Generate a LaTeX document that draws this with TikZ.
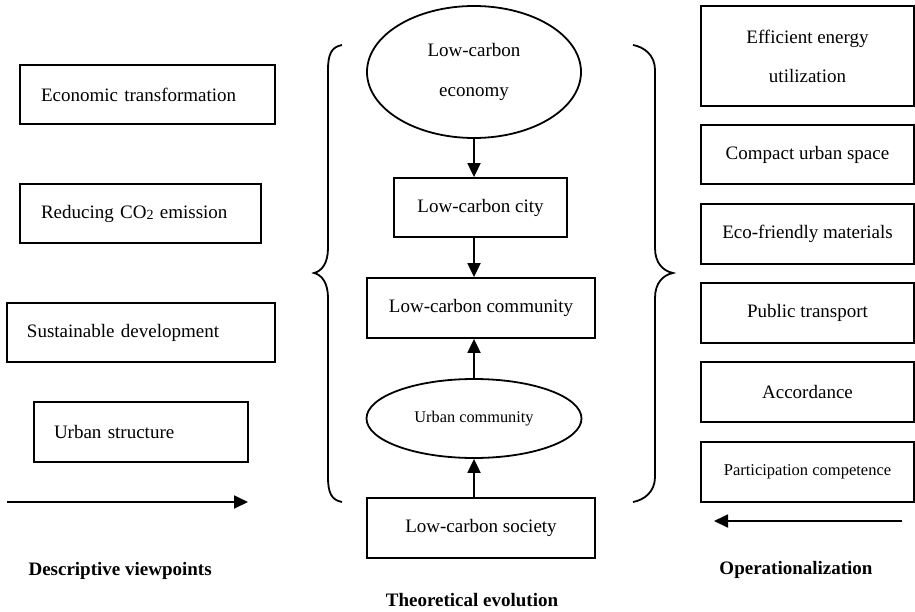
\documentclass[tikz,border=0pt]{standalone}
\usepackage{fontspec}
\setmainfont{Liberation Serif}
\usetikzlibrary{shapes.geometric,arrows.meta}
\begin{document}
\begin{tikzpicture}[x=1pt,y=-1pt,
  every node/.style={font=\fontsize{19}{23}\selectfont},
  box/.style={draw,line width=1.8pt,rectangle,inner sep=0pt,align=center},
  lbox/.style={draw,line width=1.8pt,rectangle,inner ysep=0pt,align=left},
  ell/.style={draw,line width=1.8pt,ellipse,inner sep=0pt,align=center},
  arr/.style={line width=1.8pt,-{Triangle[length=14pt,width=13pt]}},
  brace/.style={line width=1.8pt},
  lbl/.style={font=\fontsize{19}{23}\selectfont\bfseries}]
\useasboundingbox (0,0) rectangle (915,612);
% left column
\node[lbox,minimum height=59pt,text width=213pt,inner xsep=21pt] (econ) at (147.5,94.5) {Economic transformation};
\node[lbox,minimum height=59pt,text width=199pt,inner xsep=21pt] (co2) at (140.5,213.5) {Reducing CO\raisebox{-1pt}{\fontsize{14}{14}\selectfont 2} emission};
\node[lbox,minimum height=59pt,text width=228pt,inner xsep=20pt] (sust) at (141,332.5) {Sustainable development};
\node[lbox,minimum height=60pt,text width=174pt,inner xsep=20pt] (urbs) at (141,432) {Urban structure};
\coordinate (la) at (7,502);
\coordinate (lb) at (248,502);
\draw[arr] (la) -- (lb);
\node[lbl,anchor=west] (desc) at (25,571) {Descriptive viewpoints};
% centre column
\node[ell,minimum width=214pt,minimum height=132pt,font=\fontsize{19}{40}\selectfont] (ell1) at (474,72) {Low-carbon\\economy};
\node[box,minimum width=173pt,minimum height=59pt] (city) at (480.5,207.5) {Low-carbon city};
\node[box,minimum width=228pt,minimum height=60pt] (comm) at (481,308) {Low-carbon community};
\node[ell,minimum width=215pt,minimum height=79pt,font=\fontsize{16.3}{20}\selectfont] (ell2) at (474,418.5) {Urban community};
\node[box,minimum width=228pt,minimum height=60pt] (soc) at (481,528) {Low-carbon society};
\node[lbl] (theo) at (472,600) {Theoretical evolution};
\draw[arr] (ell1.south) -- (ell1.south |- city.north);
\draw[arr] (ell1.south |- city.south) -- (ell1.south |- comm.north);
\draw[arr] (ell2.north) -- (ell2.north |- comm.south);
\draw[arr] (ell2.south |- soc.north) -- (ell2.south);
% braces
\draw[brace] (342,45) .. controls (331,47) and (328,55) .. (328,70)
  -- (328,248) .. controls (328,263) and (322,271) .. (314,273)
  .. controls (322,275) and (328,283) .. (328,298)
  -- (328,477) .. controls (328,492) and (331,500) .. (342,502);
\draw[brace] (633,45) .. controls (644,47) and (655,55) .. (655,70)
  -- (655,248) .. controls (655,263) and (663,271) .. (673,273)
  .. controls (663,275) and (655,283) .. (655,298)
  -- (655,477) .. controls (655,492) and (644,500) .. (633,502);
% right column
\node[box,minimum width=213pt,minimum height=100pt,font=\fontsize{19}{39}\selectfont] (eff) at (807.5,56) {Efficient energy\\utilization};
\node[box,minimum width=213pt,minimum height=59pt] (comp) at (807.5,154.5) {Compact urban space};
\node[box,minimum width=213pt,minimum height=60pt] (eco) at (807.5,234) {Eco-friendly materials};
\node[box,minimum width=213pt,minimum height=60pt] (pub) at (807.5,313) {Public transport};
\node[box,minimum width=213pt,minimum height=60pt] (acc) at (807.5,392) {Accordance};
\node[box,minimum width=213pt,minimum height=60pt,font=\fontsize{16.5}{20}\selectfont] (part) at (807.5,472) {Participation competence};
\coordinate (ra) at (902,521);
\coordinate (rb) at (714,521);
\draw[arr] (ra) -- (rb);
\node[lbl] (oper) at (796,570) {Operationalization};
\end{tikzpicture}
\end{document}
